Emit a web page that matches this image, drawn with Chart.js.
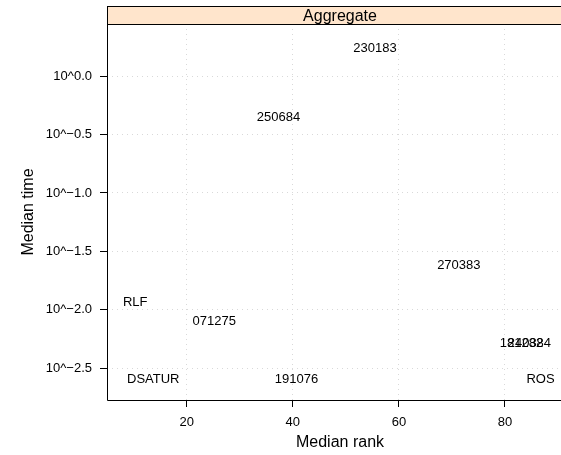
<!DOCTYPE html>
<html>
<head>
<meta charset="utf-8">
<script src="https://cdn.jsdelivr.net/npm/chart.js@4/dist/chart.umd.min.js"></script>
<style>
    html, body { margin: 0; padding: 0; background: #fff; overflow: hidden; }
    #wrap { width: 575px; height: 455px; }
</style>
</head>
<body>
<div id="wrap"><canvas id="rank-chart" width="575" height="455"></canvas></div>
<script>
// median rank vs. log10 median time, one text label per algorithm
const names = ['230183', '250684', '270383', 'RLF', '071275', '181282', '240384', 'DSATUR', '191076', 'ROS'];
const medianRank = [55.5, 37.3, 71.3, 10.3, 25.2, 83.1, 84.6, 13.7, 40.7, 86.7];
const logMedianTime = [0.237, -0.354, -1.618, -1.937, -2.103, -2.286, -2.286, -2.594, -2.594, -2.594];
const yTicks = [-2.5, -2.0, -1.5, -1.0, -0.5, 0.0];
const xTicks = [20, 40, 60, 80];
const panelTitle = 'Aggregate';

const FONT = 'Liberation Sans, Arial, Helvetica, sans-serif';

function logLabel(v) {
    const s = Math.abs(v).toFixed(1);
    return v < 0 ? '10^\u2212' + s : '10^' + s;
}

// strip header + panel outline (lattice style)
const stripPlugin = {
    id: 'strip',
    afterDraw(chart) {
        const { ctx, chartArea: a } = chart;
        const top = 6.5, bottom = Math.round(a.top) + 0.5;
        ctx.save();
        ctx.fillStyle = '#FFE5CC';
        ctx.fillRect(a.left, top, a.right - a.left, bottom - top);
        ctx.strokeStyle = '#000';
        ctx.lineWidth = 1;
        ctx.beginPath();
        ctx.moveTo(a.left, top);
        ctx.lineTo(a.right, top);
        ctx.moveTo(a.left, bottom);
        ctx.lineTo(a.right, bottom);
        ctx.stroke();
        ctx.beginPath();
        const l = Math.round(a.left) + 0.5, b = Math.round(a.bottom) + 0.5;
        ctx.moveTo(l, top);
        ctx.lineTo(l, b);
        ctx.lineTo(a.right, b);
        ctx.lineTo(a.right, top);
        ctx.stroke();
        ctx.fillStyle = '#000';
        ctx.font = '16px ' + FONT;
        ctx.textAlign = 'center';
        ctx.textBaseline = 'middle';
        ctx.fillText(panelTitle, (a.left + a.right) / 2, (top + bottom) / 2 + 1);
        ctx.restore();
    }
};

// draw each point as its name instead of a marker
const textPointPlugin = {
    id: 'textPoints',
    afterDatasetsDraw(chart) {
        const { ctx } = chart;
        const meta = chart.getDatasetMeta(0);
        ctx.save();
        ctx.fillStyle = '#000';
        ctx.font = '13px ' + FONT;
        ctx.textAlign = 'center';
        ctx.textBaseline = 'middle';
        meta.data.forEach((pt, i) => {
            ctx.fillText(names[i], pt.x, pt.y);
        });
        ctx.restore();
    }
};

const gridOpts = {
    color: '#d9d9d9',
    tickColor: '#000',
    tickLength: 7,
    lineWidth: 1
};

new Chart(document.getElementById('rank-chart'), {
    type: 'scatter',
    data: {
        datasets: [{
            data: medianRank.map((x, i) => ({ x, y: logMedianTime[i] })),
            pointRadius: 0,
            pointHoverRadius: 0
        }]
    },
    options: {
        responsive: false,
        animation: false,
        events: [],
        layout: { padding: { top: 24, right: 2, left: 0, bottom: 0 } },
        plugins: {
            legend: { display: false },
            tooltip: { enabled: false }
        },
        scales: {
            x: {
                type: 'linear',
                min: 4.98,
                max: 92.82,
                afterBuildTicks: s => { s.ticks = xTicks.map(v => ({ value: v })); },
                afterFit: s => { s.height = 55; },
                grid: gridOpts,
                border: { display: false, dash: [1, 4] },
                ticks: {
                    color: '#000',
                    padding: 8,
                    maxRotation: 0,
                    font: { size: 13, family: FONT }
                },
                title: {
                    display: true,
                    text: 'Median rank',
                    color: '#000',
                    font: { size: 16, family: FONT },
                    padding: { top: 0, bottom: 3 }
                }
            },
            y: {
                type: 'linear',
                min: -2.771,
                max: 0.445,
                afterBuildTicks: s => { s.ticks = yTicks.map(v => ({ value: v })); },
                afterFit: s => { s.width = 107; },
                grid: gridOpts,
                border: { display: false, dash: [1, 4] },
                ticks: {
                    color: '#000',
                    padding: 8,
                    font: { size: 13, family: FONT },
                    callback: v => logLabel(v)
                },
                title: {
                    display: true,
                    text: 'Median time',
                    color: '#000',
                    font: { size: 16, family: FONT },
                    padding: { top: 19, bottom: 0 }
                }
            }
        }
    },
    plugins: [stripPlugin, textPointPlugin]
});
</script>
</body>
</html>
